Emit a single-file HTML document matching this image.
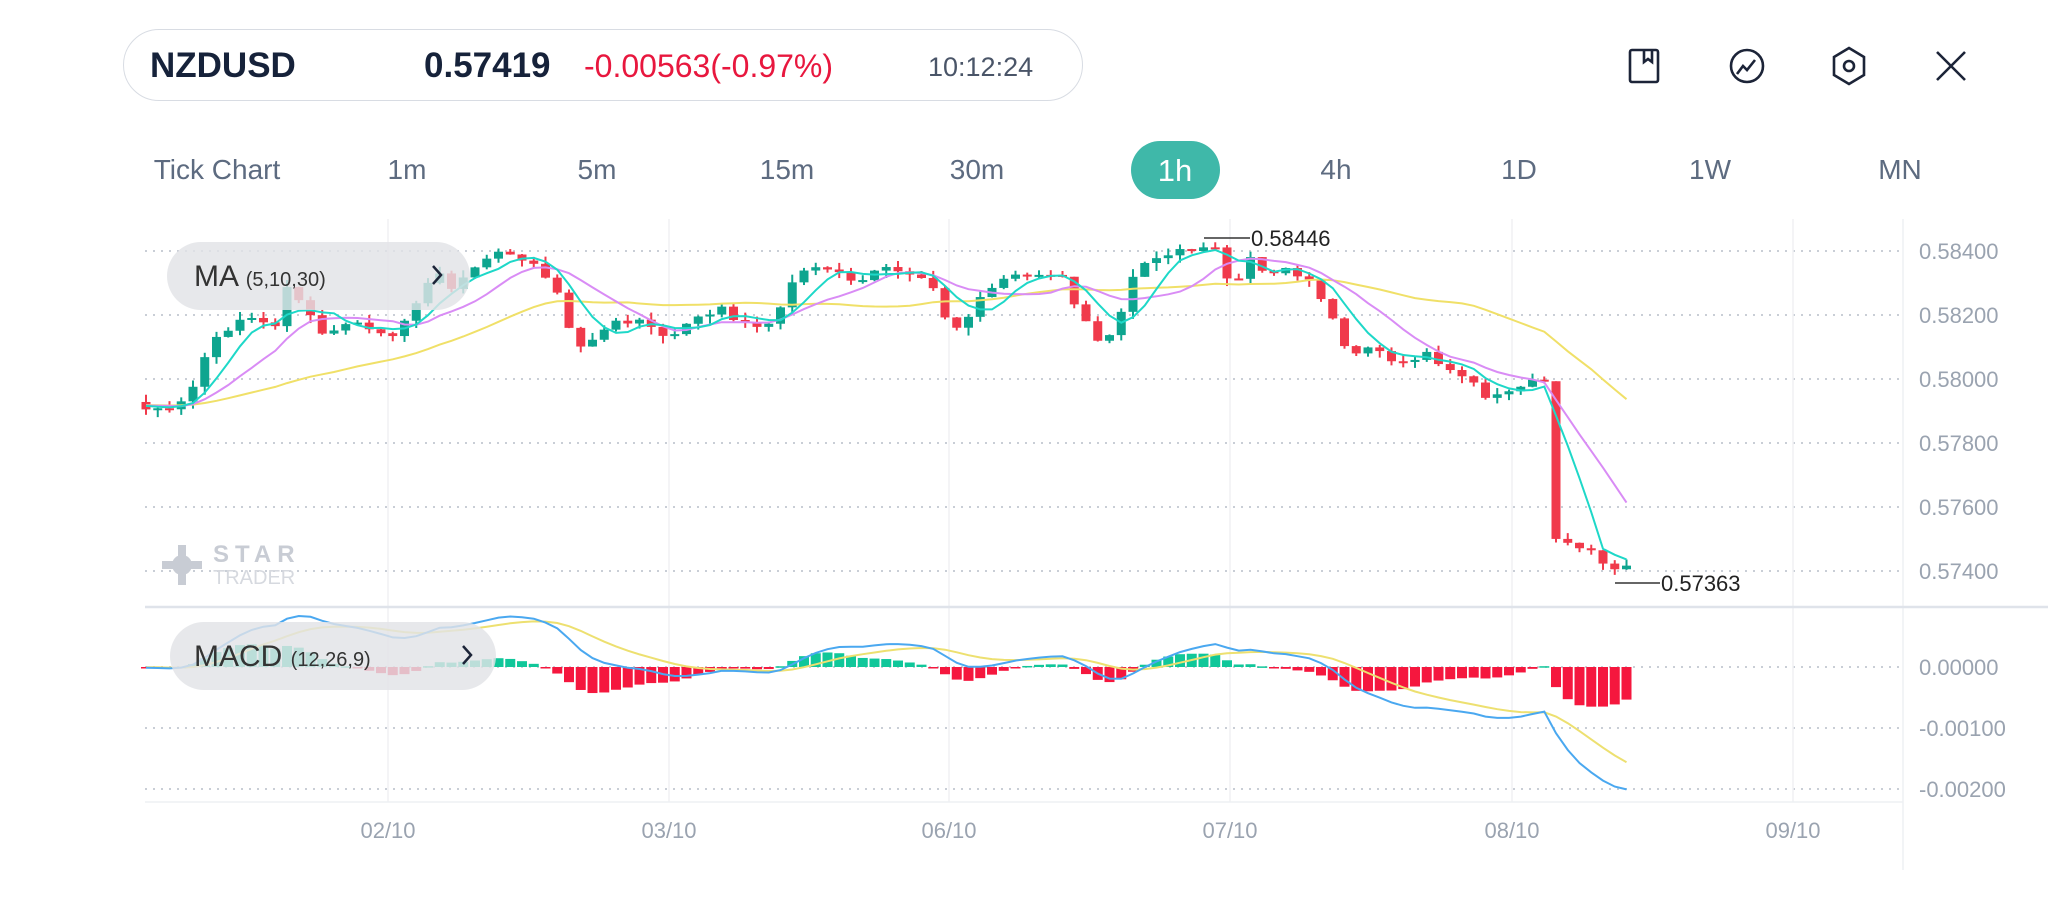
<!DOCTYPE html>
<html><head><meta charset="utf-8">
<style>
html,body{margin:0;padding:0;background:#fff;width:2048px;height:907px;overflow:hidden;font-family:"Liberation Sans",sans-serif}
.t{position:absolute;white-space:nowrap}
</style></head><body>
<div style="position:absolute;left:123px;top:29px;width:960px;height:72px;border:1.5px solid #d8dce3;border-radius:36px;box-sizing:border-box"></div>
<div class="t" style="left:150px;top:46px;font-size:35px;font-weight:bold;color:#16223a">NZDUSD</div>
<div class="t" style="left:424px;top:46px;font-size:35px;font-weight:bold;color:#16223a">0.57419</div>
<div class="t" style="left:584px;top:48px;font-size:32px;color:#e8173e">-0.00563(-0.97%)</div>
<div class="t" style="left:928px;top:52px;font-size:27px;color:#4a5568">10:12:24</div>
<svg style="position:absolute;left:0;top:0" width="2048" height="907">
<g fill="none" stroke="#1c2438" stroke-width="2.6">
<rect x="1630" y="50" width="28" height="32" rx="2"/><path d="M1644 50v12l4-3 4 3V50"/>
<circle cx="1747" cy="66" r="16"/><path d="M1737 74l6-8 4 4 8-10"/>
<path d="M1849 48l15 9v18l-15 9-15-9V57z"/><circle cx="1849" cy="66" r="5"/>
<path d="M1937 52l28 28M1965 52l-28 28"/>
</g></svg>
<div style="position:absolute;left:1131px;top:141px;width:89px;height:58px;border-radius:29px;background:#3fb8a9"></div>
<div class="t" style="left:217px;top:154px;font-size:28px;color:#5d6b80;transform:translateX(-50%)">Tick Chart</div>
<div class="t" style="left:407px;top:154px;font-size:28px;color:#5d6b80;transform:translateX(-50%)">1m</div>
<div class="t" style="left:597px;top:154px;font-size:28px;color:#5d6b80;transform:translateX(-50%)">5m</div>
<div class="t" style="left:787px;top:154px;font-size:28px;color:#5d6b80;transform:translateX(-50%)">15m</div>
<div class="t" style="left:977px;top:154px;font-size:28px;color:#5d6b80;transform:translateX(-50%)">30m</div>
<div class="t" style="left:1175px;top:153px;font-size:31px;color:#fff;transform:translateX(-50%)">1h</div>
<div class="t" style="left:1336px;top:154px;font-size:28px;color:#5d6b80;transform:translateX(-50%)">4h</div>
<div class="t" style="left:1519px;top:154px;font-size:28px;color:#5d6b80;transform:translateX(-50%)">1D</div>
<div class="t" style="left:1710px;top:154px;font-size:28px;color:#5d6b80;transform:translateX(-50%)">1W</div>
<div class="t" style="left:1900px;top:154px;font-size:28px;color:#5d6b80;transform:translateX(-50%)">MN</div>
<svg id="ch" style="position:absolute;left:0;top:0" width="2048" height="907"></svg>
<script>
var pts=[[115,.5791],[140,.5792],[150,.5800],[165,.5813],[190,.5820],[210,.5815],[220,.5830],[235,.5822],[245,.5815],[270,.5818],[297,.5812],[315,.5821],[333,.5834],[345,.5828],[370,.5838],[390,.5840],[410,.5835],[430,.5824],[440,.5808],[455,.5812],[470,.5818],[490,.5819],[512,.5813],[530,.5818],[550,.5822],[570,.5818],[585,.5815],[600,.5825],[615,.5834],[640,.5834],[660,.5830],[680,.5836],[700,.5833],[720,.5826],[727,.5812],[745,.5822],[765,.5832],[780,.5834],[800,.5832],[815,.5831],[825,.5822],[840,.5813],[855,.5815],[865,.5832],[880,.5838],[905,.5840],[930,.5843],[942,.5828],[960,.5840],[970,.5832],[985,.5835],[1000,.5832],[1015,.5823],[1035,.5806],[1050,.5810],[1070,.5805],[1090,.5808],[1110,.5804],[1130,.5799],[1140,.5794],[1160,.5797],[1175,.5800],[1188,.5797],[1191,.5750],[1210,.5748],[1220,.5745],[1232,.5740],[1240,.5741],[1248,.5742]];
function interp(x){for(var i=0;i<pts.length-1;i++){if(x<=pts[i+1][0]){var a=pts[i],b=pts[i+1];return a[1]+(b[1]-a[1])*(x-a[0])/(b[0]-a[0]);}}return pts[pts.length-1][1];}
var seed=7;function rnd(){seed=(seed*9301+49297)%233280;return seed/233280;}
var step=11.75,x0=146,N=127,closes=[],xs=[];
for(var k=0;k<40;k++)closes.push(.5792+(rnd()-.5)*.0003);
for(var i=0;i<N;i++){var xa=x0+i*step;xs.push(xa);var c=interp(xa/1.306)+(i==N-1?0:(rnd()-.5)*.00025);closes.push(c);}
var P=40;
function ma(n,j){var s=0;for(var k=j-n+1;k<=j;k++)s+=closes[k];return s/n;}
function ema(arr,n){var a=2/(n+1),o=[arr[0]];for(var i=1;i<arr.length;i++)o.push(arr[i]*a+o[i-1]*(1-a));return o;}
var e12=ema(closes,12),e26=ema(closes,26),dif=closes.map(function(_,i){return e12[i]-e26[i]}),dea=ema(dif,9);
function py(p){return 251+(0.584-p)*32000;}
function my(v){return 667-v*61000;}
var s='';
[251,315,379,443,507,571].forEach(function(y){s+='<line x1="145" x2="1900" y1="'+y+'" y2="'+y+'" stroke="#c9ced6" stroke-width="2" stroke-dasharray="2 6"/>';});
[667,728,789].forEach(function(y){s+='<line x1="145" x2="1900" y1="'+y+'" y2="'+y+'" stroke="#c9ced6" stroke-width="2" stroke-dasharray="2 6"/>';});
[388,669,949,1230,1512,1793].forEach(function(x){s+='<line x1="'+x+'" x2="'+x+'" y1="219" y2="802" stroke="#f0f1f4" stroke-width="1.5"/>';});
s+='<line x1="1903" x2="1903" y1="219" y2="870" stroke="#eef0f3" stroke-width="1.5"/>';
s+='<line x1="145" x2="2048" y1="607" y2="607" stroke="#dfe3ea" stroke-width="2.5"/>';
s+='<line x1="145" x2="1903" y1="802" y2="802" stroke="#eef0f3" stroke-width="1.5"/>';
var pl=['0.58400','0.58200','0.58000','0.57800','0.57600','0.57400'];
pl.forEach(function(t,i){s+='<text x="1919" y="'+(259+i*64)+'" font-size="22" fill="#9aa3b0" font-family="Liberation Sans">'+t+'</text>';});
['0.00000','-0.00100','-0.00200'].forEach(function(t,i){s+='<text x="1919" y="'+(675+i*61)+'" font-size="22" fill="#9aa3b0" font-family="Liberation Sans">'+t+'</text>';});
['02/10','03/10','06/10','07/10','08/10','09/10'].forEach(function(t,i){var x=[388,669,949,1230,1512,1793][i];s+='<text x="'+x+'" y="838" font-size="22" fill="#9aa3b0" text-anchor="middle" font-family="Liberation Sans">'+t+'</text>';});
for(var i=0;i<N;i++){var j=i+P,h=(dif[j]-dea[j])*1.2,y0=667,y1=my(h);var col=h>=0?'#10c79a':'#f5173e';s+='<rect x="'+(xs[i]-5)+'" y="'+Math.min(y0,y1)+'" width="10" height="'+Math.max(1.5,Math.abs(y1-y0))+'" fill="'+col+'"/>';}
function line(fn,col){var d='';for(var i=0;i<N;i++){d+=(i?'L':'M')+xs[i].toFixed(1)+' '+fn(i+P).toFixed(1);}s+='<path d="'+d+'" fill="none" stroke="'+col+'" stroke-width="2"/>';}
line(function(j){return my(dea[j])},'#ede070');
line(function(j){return my(dif[j])},'#4aa8f0');
for(var i=0;i<N;i++){var j=i+P,o=closes[j-1],c=closes[j],hi=Math.max(o,c)+rnd()*.00025,lo=Math.min(o,c)-rnd()*.00025;
var up=c>=o,col=up?'#0ea58f':'#f03a4b',x=xs[i];
s+='<line x1="'+x+'" x2="'+x+'" y1="'+py(hi)+'" y2="'+py(lo)+'" stroke="'+col+'" stroke-width="2"/>';
var ya=py(Math.max(o,c)),yb=py(Math.min(o,c));s+='<rect x="'+(x-4.5)+'" y="'+ya+'" width="9" height="'+Math.max(2,yb-ya)+'" fill="'+col+'"/>';}
line(function(j){return py(ma(30,j))},'#f0e068');
line(function(j){return py(ma(10,j))},'#d98cf5');
line(function(j){return py(ma(5,j))},'#1ed8c8');
s+='<line x1="1204" x2="1250" y1="238" y2="238" stroke="#333" stroke-width="1.5"/><text x="1251" y="246" font-size="22" fill="#222" font-family="Liberation Sans">0.58446</text>';
s+='<line x1="1615" x2="1660" y1="583" y2="583" stroke="#333" stroke-width="1.5"/><text x="1661" y="591" font-size="22" fill="#222" font-family="Liberation Sans">0.57363</text>';
s+='<rect x="167" y="242" width="303" height="68" rx="34" fill="rgba(226,227,231,0.82)"/>';
s+='<text x="194" y="286" font-size="30" fill="#333" font-family="Liberation Sans">MA <tspan font-size="20">(5,10,30)</tspan></text>';
s+='<path d="M433 266l8 9-8 9" fill="none" stroke="#1c2438" stroke-width="2.5"/>';
s+='<rect x="170" y="622" width="326" height="68" rx="34" fill="rgba(226,227,231,0.82)"/>';
s+='<text x="194" y="666" font-size="30" fill="#333" font-family="Liberation Sans">MACD <tspan font-size="20">(12,26,9)</tspan></text>';
s+='<path d="M463 646l8 9-8 9" fill="none" stroke="#1c2438" stroke-width="2.5"/>';
s+='<g fill="#c8ccd4"><circle cx="182" cy="565" r="10"/><rect x="178" y="545" width="8" height="40"/><rect x="162" y="561" width="40" height="8"/></g>';
s+='<text x="213" y="562" font-size="24" font-weight="bold" fill="#c8ccd4" letter-spacing="6" font-family="Liberation Sans">STAR</text><text x="213" y="584" font-size="20" fill="#d6d9df" font-family="Liberation Sans">TRADER</text>';
document.getElementById('ch').innerHTML=s;
</script>
</body></html>
